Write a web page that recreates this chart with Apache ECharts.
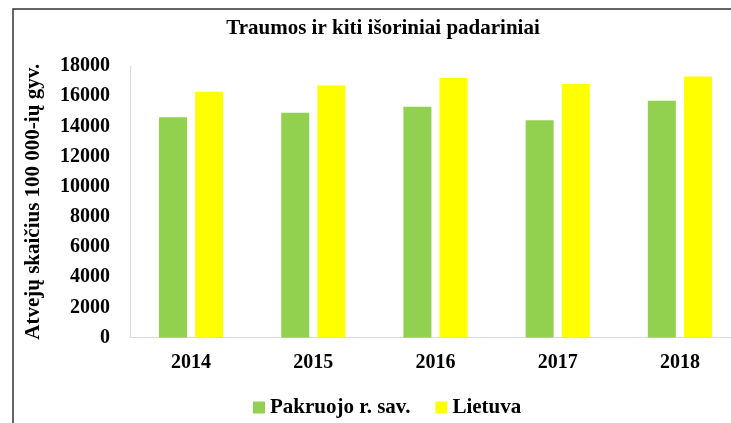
<!DOCTYPE html>
<html>
<head>
<meta charset="utf-8">
<script src="https://cdn.jsdelivr.net/npm/echarts@6/dist/echarts.min.js"></script>
<style>
  html, body { margin: 0; padding: 0; background: #fff; overflow: hidden; }
  #frame { width: 731px; height: 423px; overflow: hidden; }
  /* the plot area runs past the right edge, so the canvas is wider than the frame */
  #chart { width: 760px; height: 423px; }
</style>
</head>
<body>
<div id="frame"><div id="chart"></div></div>
<script>
// Injuries and other external causes, cases per 100 000 population
const years = ['2014', '2015', '2016', '2017', '2018'];
const pakruojo = [14600, 14900, 15300, 14400, 15700];
const lietuva = [16300, 16700, 17200, 16800, 17300];
const seriesNames = ['Pakruojo r. sav.', 'Lietuva'];

const serif = '"Liberation Serif", "Times New Roman", serif';

const chart = echarts.init(document.getElementById('chart'), null, { renderer: 'canvas' });

chart.setOption({
  animation: false,
  backgroundColor: '#ffffff',
  title: {
    text: 'Traumos ir kiti išoriniai padariniai',
    left: 383,
    textAlign: 'center',
    top: 18,
    padding: 0,
    textStyle: { fontFamily: serif, fontWeight: 'bold', fontSize: 21, color: '#000' }
  },
  legend: {
    data: seriesNames,
    left: 253,
    top: 397,
    padding: 0,
    itemWidth: 12,
    itemHeight: 12,
    itemGap: 25,
    icon: 'rect',
    textStyle: { fontFamily: serif, fontWeight: 'bold', fontSize: 21, color: '#000' }
  },
  grid: { left: 130, right: 19, top: 66, bottom: 85.5, containLabel: false },
  xAxis: {
    type: 'category',
    data: years,
    axisLine: { show: true, lineStyle: { color: '#d9d9d9', width: 1 } },
    axisTick: { show: false },
    axisLabel: { fontFamily: serif, fontWeight: 'bold', fontSize: 20, color: '#000', margin: 15 }
  },
  yAxis: {
    type: 'value',
    min: 0,
    max: 18000,
    interval: 2000,
    name: 'Atvejų skaičius 100 000-ių gyv.',
    nameLocation: 'middle',
    nameGap: 86,
    nameTextStyle: { fontFamily: serif, fontWeight: 'bold', fontSize: 21, color: '#000' },
    axisLine: { show: true, lineStyle: { color: '#d9d9d9', width: 1 } },
    axisTick: { show: false },
    splitLine: { show: false },
    axisLabel: {
      fontFamily: serif, fontWeight: 'bold', fontSize: 20, color: '#000', margin: 20,
      formatter: (v) => String(v)
    }
  },
  series: [
    {
      name: seriesNames[0],
      type: 'bar',
      data: pakruojo,
      barWidth: 28,
      barGap: '29%',
      itemStyle: { color: '#92d050' }
    },
    {
      name: seriesNames[1],
      type: 'bar',
      data: lietuva,
      barWidth: 28,
      itemStyle: { color: '#ffff00' }
    }
  ],
  graphic: [
    {
      type: 'polyline',
      shape: { points: [[13, 423], [13, 9], [760, 9]] },
      style: { stroke: '#333', lineWidth: 1.5, fill: null },
      silent: true
    }
  ]
});
</script>
</body>
</html>
